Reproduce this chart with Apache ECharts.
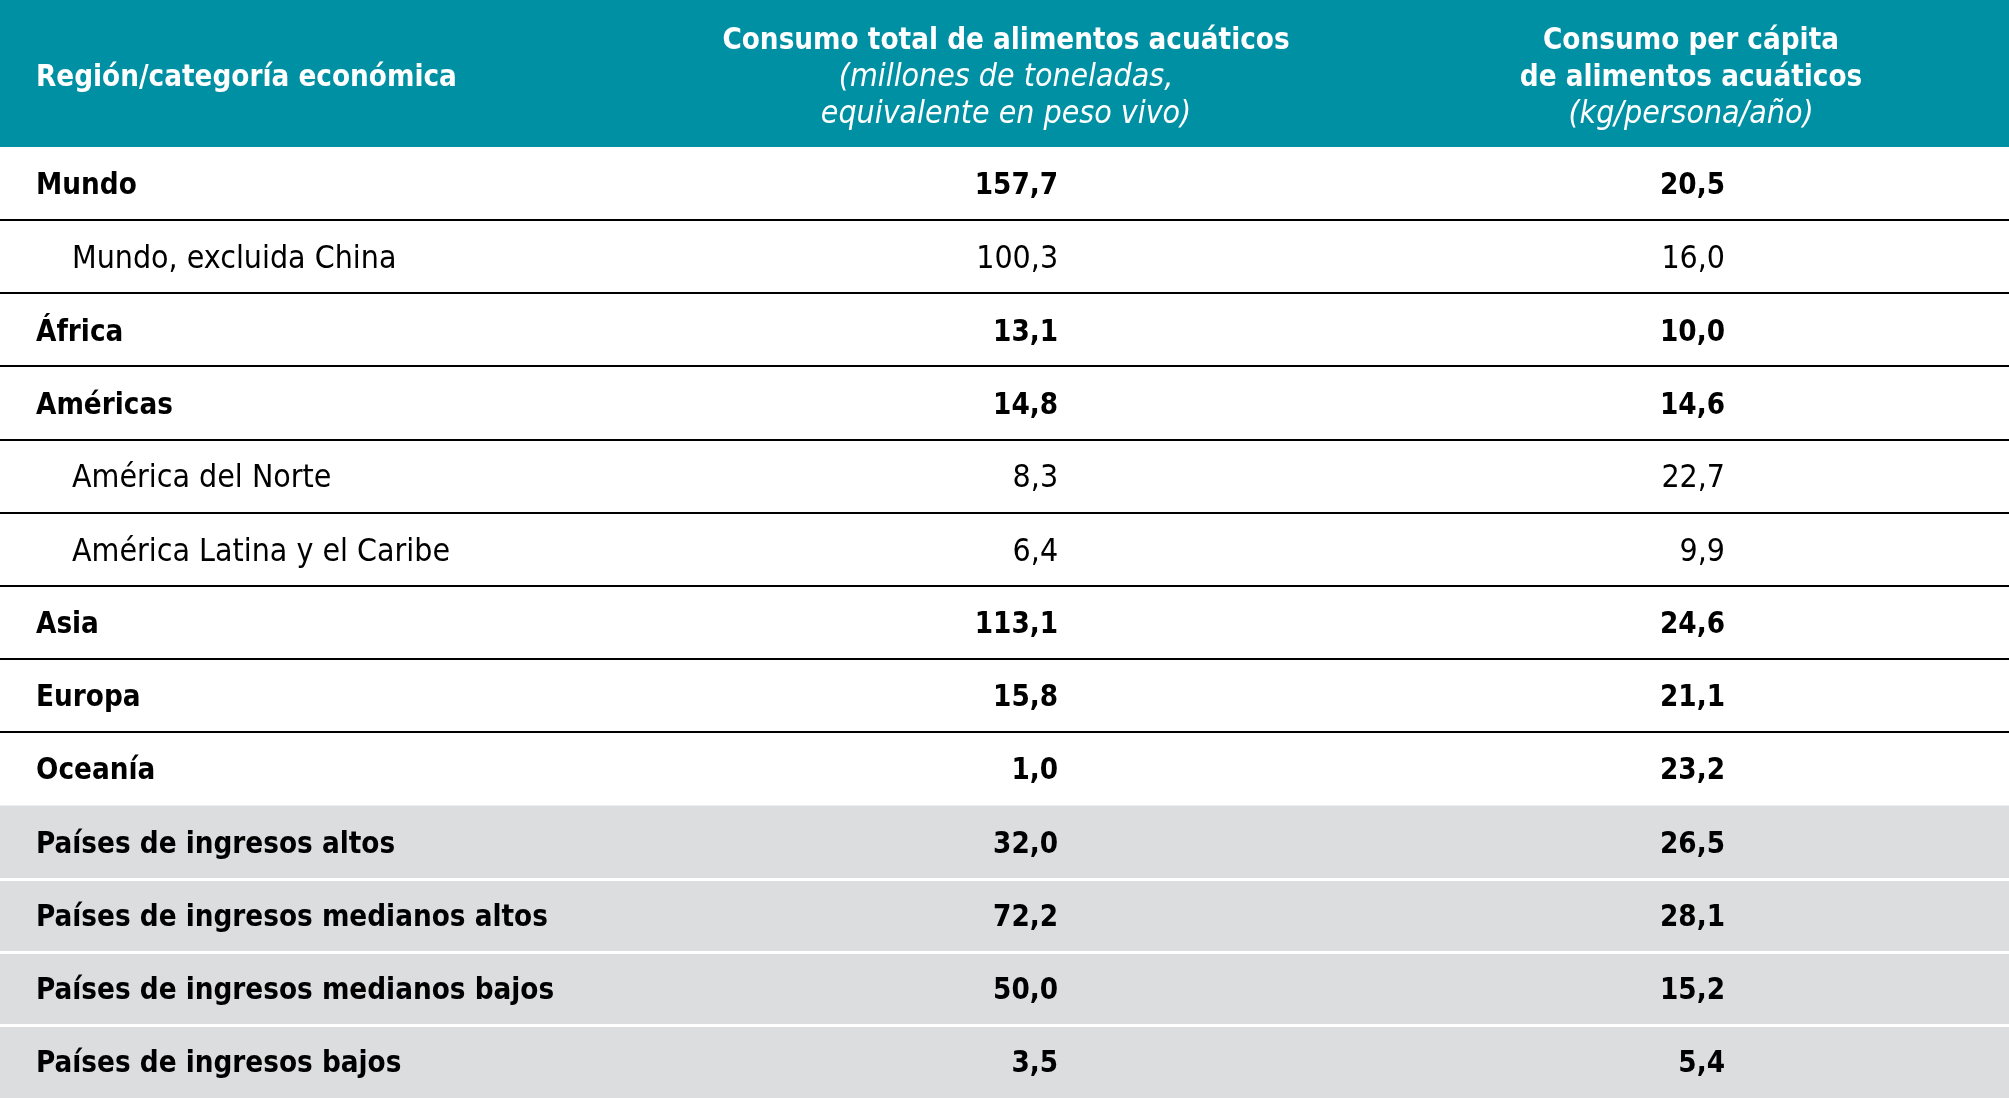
<!DOCTYPE html>
<html>
<head>
<meta charset="utf-8">
<script src="https://cdn.jsdelivr.net/npm/echarts@6/dist/echarts.min.js"></script>
<style>
html,body{margin:0;padding:0;background:#fff;}
#chart{width:2009px;height:1098px;}
</style>
</head>
<body>
<div id="chart"></div>
<script>
// ---- Data ----
var regions = ['Mundo','Mundo, excluida China','África','Américas','América del Norte','América Latina y el Caribe','Asia','Europa','Oceanía','Países de ingresos altos','Países de ingresos medianos altos','Países de ingresos medianos bajos','Países de ingresos bajos'];
var totalConsumption = [157.7,100.3,13.1,14.8,8.3,6.4,113.1,15.8,1.0,32.0,72.2,50.0,3.5];
var perCapita = [20.5,16.0,10.0,14.6,22.7,9.9,24.6,21.1,23.2,26.5,28.1,15.2,5.4];
var subLevel = [0,1,0,0,1,1,0,0,0,0,0,0,0];
var incomeGroup = [0,0,0,0,0,0,0,0,0,1,1,1,1];
var headerLabels = ['Región/categoría económica',
  ['Consumo total de alimentos acuáticos','(millones de toneladas,','equivalente en peso vivo)'],
  ['Consumo per cápita','de alimentos acuáticos','(kg/persona/año)']];

var FONT = "'Liberation Sans Narrow','DejaVu Sans Condensed','Roboto',sans-serif";
var TEAL = '#0090a3';
var GRAY = '#dcdddf';
var FSB = 29.3;  // bold size
var FSR = 31.8;  // regular size

function fmt(v){ return v.toFixed(1).replace('.', ','); }

var data = regions.map(function(r, i){ return [0, i, totalConsumption[i], perCapita[i]]; });

var richHdr = {
  b:{fill:'#fff',fontWeight:'bold',fontSize:FSB,fontFamily:FONT,lineHeight:37,align:'center'},
  i:{fill:'#fff',fontStyle:'italic',fontSize:FSR,fontFamily:FONT,lineHeight:37,align:'center'}
};

var chart = echarts.init(document.getElementById('chart'), null, {renderer:'canvas'});
chart.setOption({
  animation:false,
  backgroundColor:'#fff',
  grid:{left:0,right:0,top:147,bottom:0},
  xAxis:{type:'value',min:0,max:3,show:false},
  yAxis:{type:'category',data:regions,inverse:true,show:false},
  graphic:[
    {type:'rect',left:0,top:0,shape:{width:2009,height:147},style:{fill:TEAL},z:10},
    {type:'text',x:36,y:78,z:11,style:{text:headerLabels[0],fill:'#fff',font:'bold '+FSB+'px '+FONT,verticalAlign:'middle'}},
    {type:'text',x:1006,y:78,z:11,style:{
      text:'{b|'+headerLabels[1][0]+'}\n{i|'+headerLabels[1][1]+'}\n{i|'+headerLabels[1][2]+'}',
      align:'center',verticalAlign:'middle',rich:richHdr}},
    {type:'text',x:1691,y:78,z:11,style:{
      text:'{b|'+headerLabels[2][0]+'}\n{b|'+headerLabels[2][1]+'}\n{i|'+headerLabels[2][2]+'}',
      align:'center',verticalAlign:'middle',rich:richHdr}}
  ],
  series:[{
    type:'custom',
    data:data,
    encode:{x:0,y:1},
    renderItem:function(params, api){
      var i = api.value(1);
      var c = api.coord([0, i]);
      var h = api.size([0, 1])[1];
      var xL = api.coord([0, i])[0];
      var xR = api.coord([3, i])[0];
      var top = c[1] - h/2;
      var cy = c[1] + 3;
      var yb = Math.round(top + h);
      var gray = incomeGroup[i] === 1;
      var bold = subLevel[i] === 0;
      var font = (bold ? 'bold ' + FSB : FSR) + 'px ' + FONT;
      var children = [
        {type:'rect',shape:{x:xL,y:top,width:xR-xL,height:h+0.5},style:{fill:gray?GRAY:'#fff'}}
      ];
      if (!gray && i < 8) {
        children.push({type:'line',z2:5,shape:{x1:xL,y1:yb,x2:xR,y2:yb},style:{stroke:'#000',lineWidth:2}});
      }
      if (gray && i < regions.length-1) {
        children.push({type:'line',z2:5,shape:{x1:xL,y1:yb+0.5,x2:xR,y2:yb+0.5},style:{stroke:'#fff',lineWidth:3}});
      }
      children.push({type:'text',style:{x:xL + (subLevel[i] ? 72 : 36),y:cy,text:regions[i],font:font,fill:'#000',align:'left',verticalAlign:'middle'}});
      children.push({type:'text',style:{x:api.coord([1.58, i])[0],y:cy,text:fmt(api.value(2)),font:font,fill:'#000',align:'right',verticalAlign:'middle'}});
      children.push({type:'text',style:{x:api.coord([2.576, i])[0],y:cy,text:fmt(api.value(3)),font:font,fill:'#000',align:'right',verticalAlign:'middle'}});
      return {type:'group',children:children};
    }
  }]
});
</script>
</body>
</html>
